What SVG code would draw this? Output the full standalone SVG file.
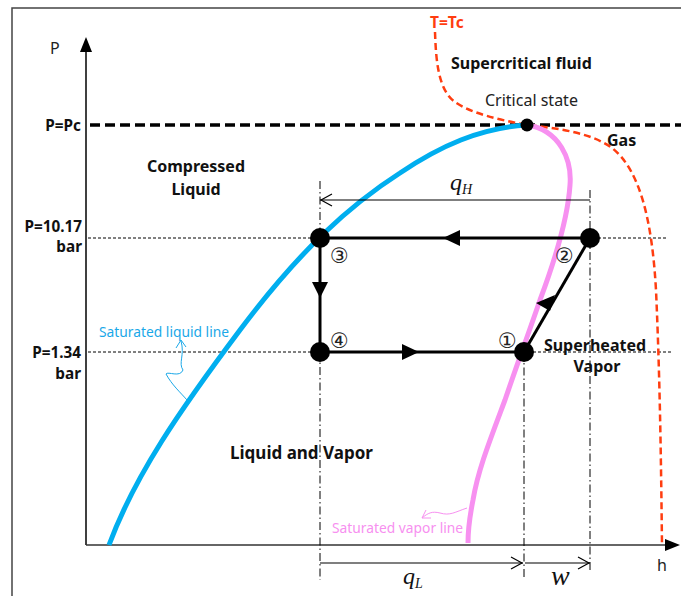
<svg xmlns="http://www.w3.org/2000/svg" width="681" height="596" viewBox="0 0 681 596">
<style>
.b{font-family:"Noto Sans","Open Sans",sans-serif;font-weight:bold;font-size:16px;fill:#111}
.l{font-family:"Noto Sans","Open Sans",sans-serif;font-weight:bold;font-size:15.3px;fill:#111}
.n{font-family:"Noto Sans","Open Sans",sans-serif;font-size:16px;fill:#222}
.m{font-family:"Liberation Serif",serif;font-style:italic;fill:#111}
.c{font-family:"DejaVu Sans",sans-serif;font-size:21px;fill:#222}
.thin{stroke:#000;stroke-width:1;stroke-dasharray:3 2;fill:none}
.dd{stroke:#000;stroke-width:1;stroke-dasharray:8 3 1.5 3;fill:none}
.cyc{stroke:#000;stroke-width:3;fill:none}
.open{stroke:#000;stroke-width:1.2;fill:none}
</style>
<rect x="12" y="8" width="700" height="600" fill="#fff" stroke="#444" stroke-width="1.5"/>
<g id="axes">
<line x1="86" y1="545" x2="86" y2="48" stroke="#000" stroke-width="1.5"/>
<polygon points="86,37 80,52 92,52" fill="#000"/>
<line x1="86" y1="545" x2="668" y2="545" stroke="#333" stroke-width="1.5"/>
<polygon points="680,545 665,539 665,551" fill="#000"/>
<text class="n" x="50" y="54">P</text>
<text class="n" x="657" y="571">h</text>
</g>
<g id="reference-lines">
<line x1="90" y1="125" x2="681" y2="125" stroke="#000" stroke-width="3.5" stroke-dasharray="10 5"/>
<line class="thin" x1="88" y1="238" x2="668" y2="238"/>
<line class="thin" x1="88" y1="352" x2="672" y2="352"/>
<line class="dd" x1="320" y1="181" x2="320" y2="580"/>
<line class="dd" x1="524" y1="352" x2="524" y2="580"/>
<line class="dd" x1="590" y1="190" x2="590" y2="570"/>
</g>
<g id="labels-left">
<text class="l" x="81" y="131" text-anchor="end">P=Pc</text>
<text class="l" x="82" y="232" text-anchor="end">P=10.17</text>
<text class="l" x="82" y="252" text-anchor="end">bar</text>
<text class="l" x="81" y="358" text-anchor="end">P=1.34</text>
<text class="l" x="81" y="379" text-anchor="end">bar</text>
</g>
<g id="tc-curve">
<path d="M435,32 C436,60 438,90 455,102 C470,113 500,120 527,125 C555,128 590,132 612,148 C640,170 652,220 656,290 C660,380 661,460 662,545" fill="none" stroke="#FF3D10" stroke-width="2.5" stroke-dasharray="7 4"/>
<text x="430" y="28" font-family="Noto Sans, Open Sans, sans-serif" font-weight="bold" font-size="15.5" fill="#FF3D10">T=Tc</text>
</g>
<g id="saturated-liquid">
<path d="M109,545 C135,475 180,410 240,330 C300,250 350,205 400,173 C440,146 480,128 527,125" fill="none" stroke="#00AEEF" stroke-width="5"/>
<text x="99" y="337" font-family="Noto Sans, Open Sans, sans-serif" font-size="13.8" fill="#1AA8E8">Saturated liquid line</text>
<path d="M181,341 C185,355 178,363 183,370 C180,378 168,371 166,374 C172,385 180,392 187,400" fill="none" stroke="#1AA8E8" stroke-width="1"/>
<polyline points="176,348 181,340 186,347" fill="none" stroke="#1AA8E8" stroke-width="1"/>
</g>
<g id="saturated-vapor">
<path d="M527,125 C560,130 572,160 570,185 C568,215 555,260 540,300 C528,335 515,370 505,400 C490,440 478,470 473,500 C469,520 468,535 468,543" fill="none" stroke="#F790F0" stroke-width="5"/>
<text x="332" y="533" font-family="Noto Sans, Open Sans, sans-serif" font-size="13.8" fill="#F790F0">Saturated vapor line</text>
<path d="M467,508 C455,512 450,516 440,513 C432,511 428,513 422,518" fill="none" stroke="#F790F0" stroke-width="1"/>
<polyline points="426,510 422,518 431,518" fill="none" stroke="#F790F0" stroke-width="1"/>
</g>
<g id="critical-point">
<circle cx="527" cy="125" r="6.5" fill="#000"/>
<text class="n" x="485" y="106">Critical state</text>
</g>
<g id="region-labels">
<text class="b" x="451" y="69">Supercritical  fluid</text>
<text class="b" x="607" y="146">Gas</text>
<text class="b" x="196" y="172" text-anchor="middle">Compressed</text>
<text class="b" x="196" y="195" text-anchor="middle">Liquid</text>
<text class="b" x="230" y="459" style="font-size:17px">Liquid and Vapor</text>
<text class="b" x="595" y="351" text-anchor="middle">Superheated</text>
<text class="b" x="597" y="372" text-anchor="middle">Vapor</text>
</g>
<g id="connectors">
<line class="cyc" x1="590" y1="238" x2="320" y2="238"/>
<line class="cyc" x1="320" y1="238" x2="320" y2="352"/>
<line class="cyc" x1="320" y1="352" x2="524" y2="352"/>
<line class="cyc" x1="524" y1="352" x2="590" y2="238"/>
<polygon points="443,238 460,230 460,246" fill="#000"/>
<polygon points="320,298 312,282 328,282" fill="#000"/>
<polygon points="419,352 402,344 402,360" fill="#000"/>
<polygon points="555,295 536,303 550,311" fill="#000"/>
</g>
<g id="state-3"><circle cx="320" cy="238" r="10" fill="#000"/><text class="c" x="330" y="263">③</text></g>
<g id="state-2"><circle cx="590" cy="238" r="10" fill="#000"/><text class="c" x="555" y="263">②</text></g>
<g id="state-1"><circle cx="524" cy="352" r="10" fill="#000"/><text class="c" x="498" y="348">①</text></g>
<g id="state-4"><circle cx="320" cy="352" r="10" fill="#000"/><text class="c" x="330" y="348">④</text></g>
<g id="energy-arrows">
<line class="open" x1="590" y1="200" x2="320" y2="200"/>
<polyline class="open" points="332,194 321,200 332,206"/>
<text class="m" x="450" y="190" font-size="24">q<tspan font-size="14" dy="4">H</tspan></text>
<line class="open" x1="320" y1="563" x2="523" y2="563"/>
<polyline class="open" points="511,557 522,563 511,569"/>
<line class="open" x1="525" y1="563" x2="590" y2="563"/>
<polyline class="open" points="578,557 589,563 578,569"/>
<text class="m" x="403" y="584" font-size="24">q<tspan font-size="14" dy="4">L</tspan></text>
<text class="m" x="551" y="585" font-size="28">w</text>
</g>
</svg>
